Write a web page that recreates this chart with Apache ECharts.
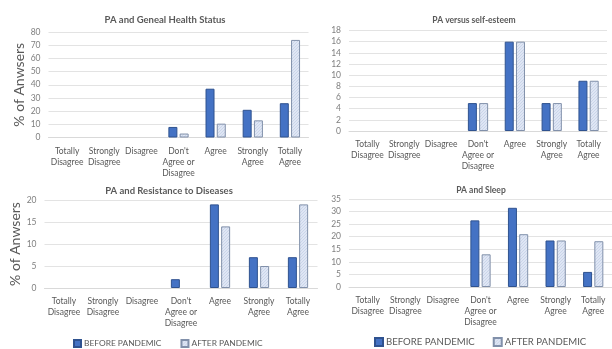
<!DOCTYPE html>
<html>
<head>
<meta charset="utf-8">
<script src="https://cdn.jsdelivr.net/npm/echarts@6/dist/echarts.min.js"></script>
<style>
  html, body { margin: 0; padding: 0; background: #fff; }
  #chart { width: 612px; height: 349px; }
</style>
</head>
<body>
<div id="chart"></div>
<script>
// Likert answer categories shared by all four panels
const categories = ['Totally\nDisagree', 'Strongly\nDisagree', 'Disagree', "Don't\nAgree or\nDisagree", 'Agree', 'Strongly\nAgree', 'Totally\nAgree'];
const seriesNames = ['BEFORE PANDEMIC', 'AFTER PANDEMIC'];

// Panel titles
const panelTitles = ['PA and Geneal Health Status', 'PA versus self-esteem', 'PA and Resistance to Diseases', 'PA and Sleep'];
const yAxisTitle = '% of Anwsers';

// Panel 1: general health status
const healthBefore = [0, 0, 0, 8, 37, 21, 26];
const healthAfter  = [0, 0, 0, 3, 10.5, 13, 74];
// Panel 2: self-esteem
const esteemBefore = [0, 0, 0, 5, 16, 5, 9];
const esteemAfter  = [0, 0, 0, 5, 16, 5, 9];
// Panel 3: resistance to diseases
const diseaseBefore = [0, 0, 0, 2, 19, 7, 7];
const diseaseAfter  = [0, 0, 0, 0, 14, 5, 19];
// Panel 4: sleep
const sleepBefore = [0, 0, 0, 26.5, 31.5, 18.5, 6];
const sleepAfter  = [0, 0, 0, 13, 21, 18.5, 18.2];

// Y axis ranges (max, step)
const yMax  = [80, 18, 20, 35];
const yStep = [10, 2, 5, 5];

const FONT = 'Lato, "Open Sans", sans-serif';

// Fine diagonal hatch used for the "after" bars
function hatch() {
  const c = document.createElement('canvas');
  c.width = 3; c.height = 3;
  const g = c.getContext('2d');
  g.fillStyle = '#dfe6f4';
  g.fillRect(0, 0, 3, 3);
  g.fillStyle = '#cad5ea';
  for (let i = 0; i < 3; i++) g.fillRect(i, 2 - i, 1, 1);
  return c;
}
const hatchPattern = { image: hatch(), repeat: 'repeat' };

const beforeStyle = { color: '#4472c4', borderColor: '#2f528f', borderWidth: 1 };
const afterStyle  = { color: hatchPattern, borderColor: '#8190aa', borderWidth: 1 };

// Zero answers draw no bar at all
const asBars = arr => arr.map(v => (v === 0 ? '-' : v));

const grids = [
  { left: 48.5, top: 32, width: 260, height: 105.5 },
  { left: 349, top: 30.5, width: 258, height: 100.5 },
  { left: 44.5, top: 200, width: 273, height: 88 },
  { left: 349, top: 199, width: 266, height: 88 }
];

const data = [
  [healthBefore, healthAfter],
  [esteemBefore, esteemAfter],
  [diseaseBefore, diseaseAfter],
  [sleepBefore, sleepAfter]
];

const titlePos = [
  { x: 160, y: 10, size: 9.5 },
  { x: 469, y: 11, size: 8.5 },
  { x: 164, y: 181, size: 9.5 },
  { x: 476, y: 181, size: 8.5 }
];

const yNameGap = [16, 0, 12, 0];

const option = {
  animation: false,
  backgroundColor: '#ffffff',
  textStyle: { fontFamily: FONT },
  title: panelTitles.map((t, i) => ({
    text: t,
    left: titlePos[i].x,
    top: titlePos[i].y,
    textAlign: 'center',
    textStyle: { fontFamily: FONT, fontSize: titlePos[i].size, fontWeight: 'bold', color: '#595959' }
  })),
  legend: [
    {
      data: seriesNames, left: 68, top: 334, width: 240,
      icon: 'rect', itemWidth: 7, itemHeight: 7, itemGap: 19,
      textStyle: { fontFamily: FONT, fontSize: 8.4, color: '#595959', padding: [0, 0, 0, -2] }
    },
    {
      data: seriesNames, left: 369, top: 332, width: 243,
      icon: 'rect', itemWidth: 8, itemHeight: 8, itemGap: 18,
      textStyle: { fontFamily: FONT, fontSize: 9.6, color: '#595959', padding: [0, 0, 0, -2] }
    }
  ],
  grid: grids,
  xAxis: grids.map((g, i) => ({
    type: 'category',
    gridIndex: i,
    data: categories,
    axisTick: { show: false },
    axisLine: { lineStyle: { color: '#d9d9d9' } },
    axisLabel: { interval: 0, fontFamily: FONT, fontSize: 8.5, lineHeight: 11, color: '#595959', margin: 8 }
  })),
  yAxis: grids.map((g, i) => ({
    type: 'value',
    gridIndex: i,
    min: 0, max: yMax[i], interval: yStep[i],
    name: (i === 0 || i === 2) ? yAxisTitle : '',
    nameLocation: 'middle',
    nameGap: yNameGap[i],
    nameTextStyle: { fontFamily: FONT, fontSize: 14, color: '#595959' },
    axisLine: { show: false },
    axisTick: { show: false },
    splitLine: { lineStyle: { color: '#e3e3e3' } },
    axisLabel: { fontFamily: FONT, fontSize: 8.5, color: '#7f7f7f', margin: 8 }
  })),
  series: []
};

data.forEach((pair, i) => {
  option.series.push({
    name: seriesNames[0], type: 'bar', xAxisIndex: i, yAxisIndex: i,
    data: asBars(pair[0]), barWidth: 9, barGap: '25%', itemStyle: beforeStyle
  });
  option.series.push({
    name: seriesNames[1], type: 'bar', xAxisIndex: i, yAxisIndex: i,
    data: asBars(pair[1]), barWidth: 9, barGap: '25%', itemStyle: afterStyle
  });
});

const chart = echarts.init(document.getElementById('chart'), null, { renderer: 'canvas' });
chart.setOption(option);
</script>
</body>
</html>
